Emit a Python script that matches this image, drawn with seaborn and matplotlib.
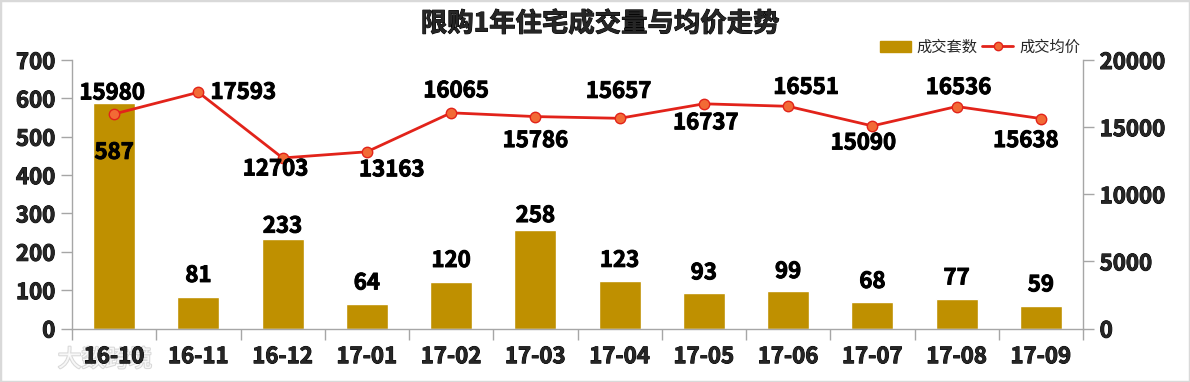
import numpy as np
import pandas as pd
import matplotlib
matplotlib.use("Agg")
import matplotlib.pyplot as plt
import matplotlib.patheffects as pe
from matplotlib.lines import Line2D
from matplotlib.patches import Patch, Rectangle
import seaborn as sns

# ---- data ----
months = ["16-10", "16-11", "16-12", "17-01", "17-02", "17-03",
          "17-04", "17-05", "17-06", "17-07", "17-08", "17-09"]
counts = [587, 81, 233, 64, 120, 258, 123, 93, 99, 68, 77, 59]
prices = [15980, 17593, 12703, 13163, 16065, 15786, 15657, 16737, 16551, 15090, 16536, 15638]
title = "限购1年住宅成交量与均价走势"
bar_name = "成交套数"
line_name = "成交均价"
watermark = "大数跨境"
left_ticks = [0, 100, 200, 300, 400, 500, 600, 700]
right_ticks = [0, 5000, 10000, 15000, 20000]

# label offsets (pixels)
price_offsets = [(-2, 21), (45, 0), (-7, -11), (25, -18), (5, 22), (0, -24),
                 (-1, 27), (2, -19), (18, 19), (-9, -17), (2, 19), (-15, -22)]
bar_offsets = [-49, 22, 13, 21, 22, 14, 21, 20, 19, 21, 21, 21]

sns.set_theme(style="white")
plt.rcParams['font.family'] = ['Noto Sans CJK SC', 'DejaVu Sans']

BAR = "#BF9000"
LINE = "#E2231A"
MFACE = "#F26A35"
GRAY = "#A6A6A6"
heavy = [pe.withStroke(linewidth=0.7, foreground='black')]

fig = plt.figure(figsize=(11.9, 3.82), dpi=100)
ax = fig.add_axes([72/1190, 1-328.5/382, (1083-72)/1190, (328.5-60)/382])

df = pd.DataFrame({"month": months, "count": counts})
sns.barplot(data=df, x="month", y="count", color=BAR, saturation=1,
            width=0.5, ax=ax, zorder=2)
ax.set_xlim(-0.5, len(months) - 0.5)
ax.set_ylim(0, 700)
ax.set_yticks(left_ticks)
ax.set_xlabel("")
ax.set_ylabel("")

ax2 = ax.twinx()
dfl = pd.DataFrame({"pos": np.arange(len(months)), "price": prices})
sns.lineplot(data=dfl, x="pos", y="price", ax=ax2, color=LINE, lw=2,
             marker="o", markersize=7.5, markerfacecolor=MFACE,
             markeredgecolor=LINE, markeredgewidth=1, sort=False)
ax2.set_ylim(0, 20000)
ax2.set_yticks(right_ticks)
ax2.set_xlim(-0.5, len(months) - 0.5)
ax2.set_xlabel("")
ax2.set_ylabel("")

for a in (ax, ax2):
    for s in a.spines.values():
        s.set_visible(False)
ax.spines['left'].set_visible(True)
ax.spines['bottom'].set_visible(True)
ax2.spines['right'].set_visible(True)
for s in (ax.spines['left'], ax.spines['bottom'], ax2.spines['right']):
    s.set_color(GRAY)
    s.set_linewidth(1)

tfont = dict(fontsize=16, fontweight='bold', color='black')
ax.tick_params(axis='y', direction='out', length=8, color=GRAY, width=1,
               left=True, labelsize=16, pad=4)
ax2.tick_params(axis='y', direction='out', length=8, color=GRAY, width=1,
                right=True, labelsize=16, pad=4)

# x ticks: labels at centers, tick marks at boundaries
ax.set_xticks(range(len(months)))
ax.set_xticklabels(months, fontsize=16, fontweight='bold')
ax.tick_params(axis='x', which='major', length=0, pad=12)
ax.set_xticks(np.arange(-0.5, len(months) + 0.5, 1), minor=True)
ax.tick_params(axis='x', which='minor', direction='out', length=8,
               color=GRAY, width=1, bottom=True)
ax2.tick_params(axis='x', which='both', bottom=False, top=False,
                labelbottom=False, labeltop=False)

for lab in ax.get_yticklabels() + ax2.get_yticklabels() + ax.get_xticklabels():
    lab.set_fontweight('bold')
    lab.set_path_effects(heavy)

# bar labels
for i, (v, dy) in enumerate(zip(counts, bar_offsets)):
    ax.annotate(str(v), (i, v), xytext=(0, dy), textcoords='offset pixels',
                ha='center', va='center', path_effects=heavy, zorder=5, **tfont)

# price labels
for i, (v, off) in enumerate(zip(prices, price_offsets)):
    ax2.annotate(str(v), (i, v), xytext=off, textcoords='offset pixels',
                 ha='center', va='center', path_effects=heavy, zorder=6, **tfont)

fig.text(600/1190, 1-24/382, title, ha='center', va='center',
         fontsize=19, fontweight='bold', path_effects=heavy)

handles = [Patch(facecolor=BAR, edgecolor=BAR),
           Line2D([0], [0], color=LINE, lw=2, marker='o', markersize=6,
                  markerfacecolor=MFACE, markeredgecolor=LINE)]
fig.legend(handles, [bar_name, line_name], loc='center right',
           bbox_to_anchor=(1080/1190, 1-47/382), ncol=2, frameon=False,
           fontsize=11, handlelength=2.0, handleheight=0.7, handletextpad=0.4,
           columnspacing=0.3, borderpad=0, borderaxespad=0)

# faint watermark (drawn beneath the tick labels)
fig.text(105/1190, 1-360/382, watermark, ha='center', va='center',
         fontsize=17, color='white', alpha=0.8, zorder=-1,
         path_effects=[pe.withStroke(linewidth=1.5, foreground='#cfcfcf')])

fig.patches.append(Rectangle((0, 0), 1, 1, transform=fig.transFigure,
                             fill=False, edgecolor='#D9D9D9', linewidth=2.5))

fig.savefig("out.png", dpi=100)
